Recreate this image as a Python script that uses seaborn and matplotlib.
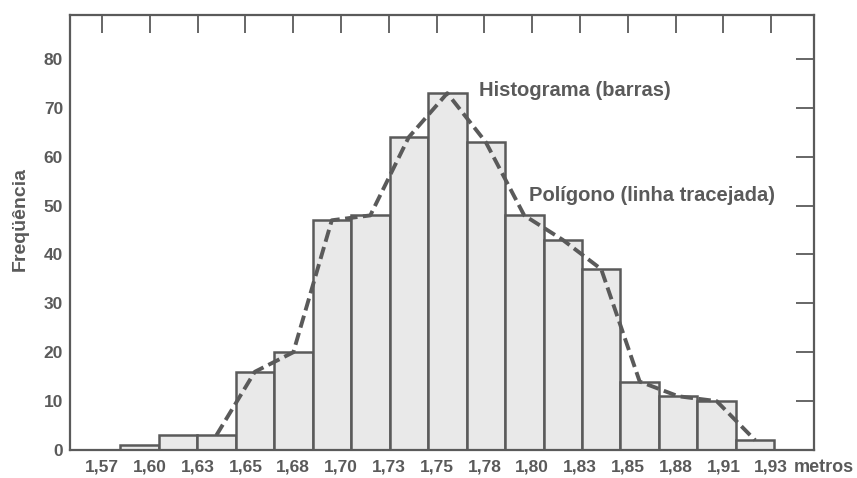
import numpy as np
import pandas as pd
import seaborn as sns
import matplotlib.pyplot as plt

sns.set_style('white')
plt.rcParams['font.family'] = ['Liberation Sans', 'DejaVu Sans']

INK = '#5a5a5a'
FILL = '#e9e9e9'

# class limits (metres), 17 bins of about 2 cm
bin_edges = [1.5844, 1.6049, 1.6253, 1.6458, 1.6662, 1.6867, 1.7071, 1.7276,
             1.7480, 1.7685, 1.7889, 1.8094, 1.8298, 1.8503, 1.8707, 1.8912,
             1.9116, 1.9321]
counts = [1, 3, 3, 16, 20, 47, 48, 64, 73, 63, 48, 43, 37, 14, 11, 10, 2]

# ticks sit on whole inches (62 .. 76 in), labelled in metres
tick_pos = [1.5748, 1.6002, 1.6256, 1.6510, 1.6764, 1.7018, 1.7272, 1.7526,
            1.7780, 1.8034, 1.8288, 1.8542, 1.8796, 1.9050, 1.9304]
tick_lbl = ['1,57', '1,60', '1,63', '1,65', '1,68', '1,70', '1,73', '1,75',
            '1,78', '1,80', '1,83', '1,85', '1,88', '1,91', '1,93']
y_ticks = [0, 10, 20, 30, 40, 50, 60, 70, 80]

edges = np.array(bin_edges)
df = pd.DataFrame({'mid': (edges[:-1] + edges[1:]) / 2, 'freq': counts})
poly = df.iloc[2:]  # polygon starts at the third class

fig = plt.figure(figsize=(8.57, 4.78), dpi=100)
ax = fig.add_axes([0.0817, 0.0586, 0.8683, 0.91])

sns.histplot(data=df, x='mid', weights='freq', bins=bin_edges, ax=ax,
             color=FILL, edgecolor=INK, linewidth=1.8, alpha=1)
sns.lineplot(data=poly, x='mid', y='freq', ax=ax, color=INK,
             linewidth=2.8, linestyle=(0, (3.2, 1.4)), sort=True)

ax.set_xlim(1.5578, 1.9532)
ax.set_ylim(0, 89)
ax.set_xticks(tick_pos)
ax.set_xticklabels(tick_lbl)
ax.set_yticks(y_ticks)

ax.tick_params(direction='in', length=13, width=1.3, color=INK,
               top=True, right=True, labelcolor=INK, labelsize=12.5)
ax.tick_params(axis='x', pad=7)
ax.tick_params(axis='y', pad=5)
for lab in ax.get_xticklabels() + ax.get_yticklabels():
    lab.set_fontweight('bold')

for s in ax.spines.values():
    s.set_color(INK)
    s.set_linewidth(1.6)

ax.set_xlabel('')
ax.set_ylabel('Freqüência', fontsize=14, fontweight='bold', color=INK)
ax.yaxis.set_label_coords(-0.056, 0.53)

ax.text(1.9422, -0.041, 'metros', transform=ax.get_xaxis_transform(),
        ha='left', va='center', fontsize=13, fontweight='bold', color=INK)
ax.text(1.7752, 73.6, 'Histograma (barras)', ha='left', va='center',
        fontsize=14.5, fontweight='bold', color=INK)
ax.text(1.8017, 52, 'Polígono (linha tracejada)', ha='left', va='center',
        fontsize=14.5, fontweight='bold', color=INK)

plt.savefig('out.png', dpi=100)
plt.close(fig)
